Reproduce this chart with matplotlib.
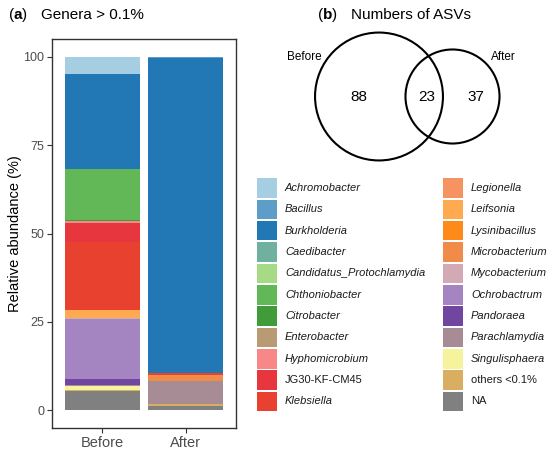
import matplotlib
matplotlib.use("Agg")
import matplotlib.pyplot as plt
from matplotlib.patches import Rectangle, Circle
import numpy as np

plt.rcParams['font.family'] = ['Liberation Sans', 'DejaVu Sans']
plt.rcParams['mathtext.fontset'] = 'custom'
plt.rcParams['mathtext.rm'] = 'Liberation Sans'
plt.rcParams['mathtext.bf'] = 'Liberation Sans:bold'

# genres dans l'ordre de la legende (le premier est en haut de la pile)
genera = ["Achromobacter", "Bacillus", "Burkholderia", "Caedibacter",
          "Candidatus_Protochlamydia", "Chthoniobacter", "Citrobacter",
          "Enterobacter", "Hyphomicrobium", "JG30-KF-CM45", "Klebsiella",
          "Legionella", "Leifsonia", "Lysinibacillus", "Microbacterium",
          "Mycobacterium", "Ochrobactrum", "Pandoraea", "Parachlamydia",
          "Singulisphaera", "others <0.1%", "NA"]
couleurs = ["#a6cee3", "#5d9ec9", "#2278b5", "#6fb09f", "#a6da85", "#62b756",
            "#3f9c39", "#b89a74", "#f88888", "#e8363e", "#e8412f", "#f59461",
            "#fdaa50", "#fe8a1a", "#f08b49", "#d3a9b6", "#a585c1", "#7046a0",
            "#a88c95", "#f5f39c", "#d9ae61", "#808080"]
non_italique = ["JG30-KF-CM45", "others <0.1%", "NA"]

echantillons = ["Before", "After"]
avant = [4.8, 0.0, 27.1, 0.0, 0.0, 14.4, 0.3, 0.0, 0.4, 5.5, 19.2,
         0.0, 2.3, 0.0, 0.0, 0.2, 16.9, 1.7, 0.4, 1.0, 0.2, 5.6]
apres = [0.1, 0.3, 89.0, 0.0, 0.0, 0.0, 0.0, 0.0, 0.0, 0.0, 0.6,
         0.0, 0.0, 0.0, 1.7, 0.0, 0.0, 0.0, 6.5, 0.0, 0.6, 1.2]

# diagramme de Venn
venn_seul_avant = 88
venn_commun = 23
venn_seul_apres = 37

W, H = 550, 454
fig = plt.figure(figsize=(W / 100, H / 100), dpi=100)

# ---- panneau (a) : barres empilees ----
ax = fig.add_axes([52 / W, 1 - 428 / H, 184 / W, 389 / H])
x = np.arange(1, len(echantillons) + 1)
valeurs = np.array([avant, apres])  # (echantillon, genre)
bas = np.zeros(len(echantillons))
for i in range(len(genera) - 1, -1, -1):  # on empile depuis le bas (NA)
    ax.bar(x, valeurs[:, i], bottom=bas, width=0.9, color=couleurs[i], linewidth=0)
    bas += valeurs[:, i]

ax.set_xlim(0.4, 2.6)
ax.set_ylim(-5, 105)
ax.set_yticks([0, 25, 50, 75, 100])
ax.set_xticks(x)
ax.set_xticklabels(echantillons, fontsize=10.5)
ax.tick_params(axis='both', colors='#333333', labelcolor='#4d4d4d',
               length=3.5, width=0.8, pad=2)
ax.tick_params(axis='y', labelsize=9)
ax.set_ylabel("Relative abundance (%)", fontsize=10.5, color='black', labelpad=1)
for s in ax.spines.values():
    s.set_color('#333333')
    s.set_linewidth(1.0)

# ---- calque en pixels pour titres, Venn et legende ----
ov = fig.add_axes([0, 0, 1, 1])
ov.set_xlim(0, W)
ov.set_ylim(H, 0)
ov.axis('off')

ov.text(8, 15, r"($\mathbf{a}$)", fontsize=11, va='center', ha='left')
ov.text(41, 15, "Genera > 0.1%", fontsize=11, va='center', ha='left')
ov.text(317, 15, r"($\mathbf{b}$)", fontsize=11, va='center', ha='left')
ov.text(351, 15, "Numbers of ASVs", fontsize=11, va='center', ha='left')

# rayons proportionnels a la racine de la taille des ensembles
n_avant = venn_seul_avant + venn_commun
n_apres = venn_seul_apres + venn_commun
k = 6.07
r_avant = k * np.sqrt(n_avant)
r_apres = k * np.sqrt(n_apres)
cx_avant, cx_apres, cy = 379, 452.5, 96.5
ov.add_patch(Circle((cx_avant, cy), r_avant, fill=False, lw=1.5, ec='black'))
ov.add_patch(Circle((cx_apres, cy), r_apres, fill=False, lw=1.5, ec='black'))
ov.text(359, 97, str(venn_seul_avant), fontsize=11, ha='center', va='center')
ov.text(427, 97, str(venn_commun), fontsize=11, ha='center', va='center')
ov.text(476, 97, str(venn_seul_apres), fontsize=11, ha='center', va='center')
ov.text(304, 57, "Before", fontsize=8.5, ha='center', va='center')
ov.text(503, 57, "After", fontsize=8.5, ha='center', va='center')

# legende manuelle en deux colonnes
nb_lignes = 11
y0, dy = 188, 21.35
for i, (g, c) in enumerate(zip(genera, couleurs)):
    col, lig = divmod(i, nb_lignes)
    sx = 257 if col == 0 else 443
    yy = y0 + lig * dy
    ov.add_patch(Rectangle((sx, yy - 9.8), 20, 19.6, fc=c, ec='none'))
    style = 'normal' if g in non_italique else 'italic'
    ov.text(sx + 28, yy, g, fontsize=8, style=style, ha='left', va='center',
            color='#1a1a1a')

fig.savefig("out.png", dpi=100)
